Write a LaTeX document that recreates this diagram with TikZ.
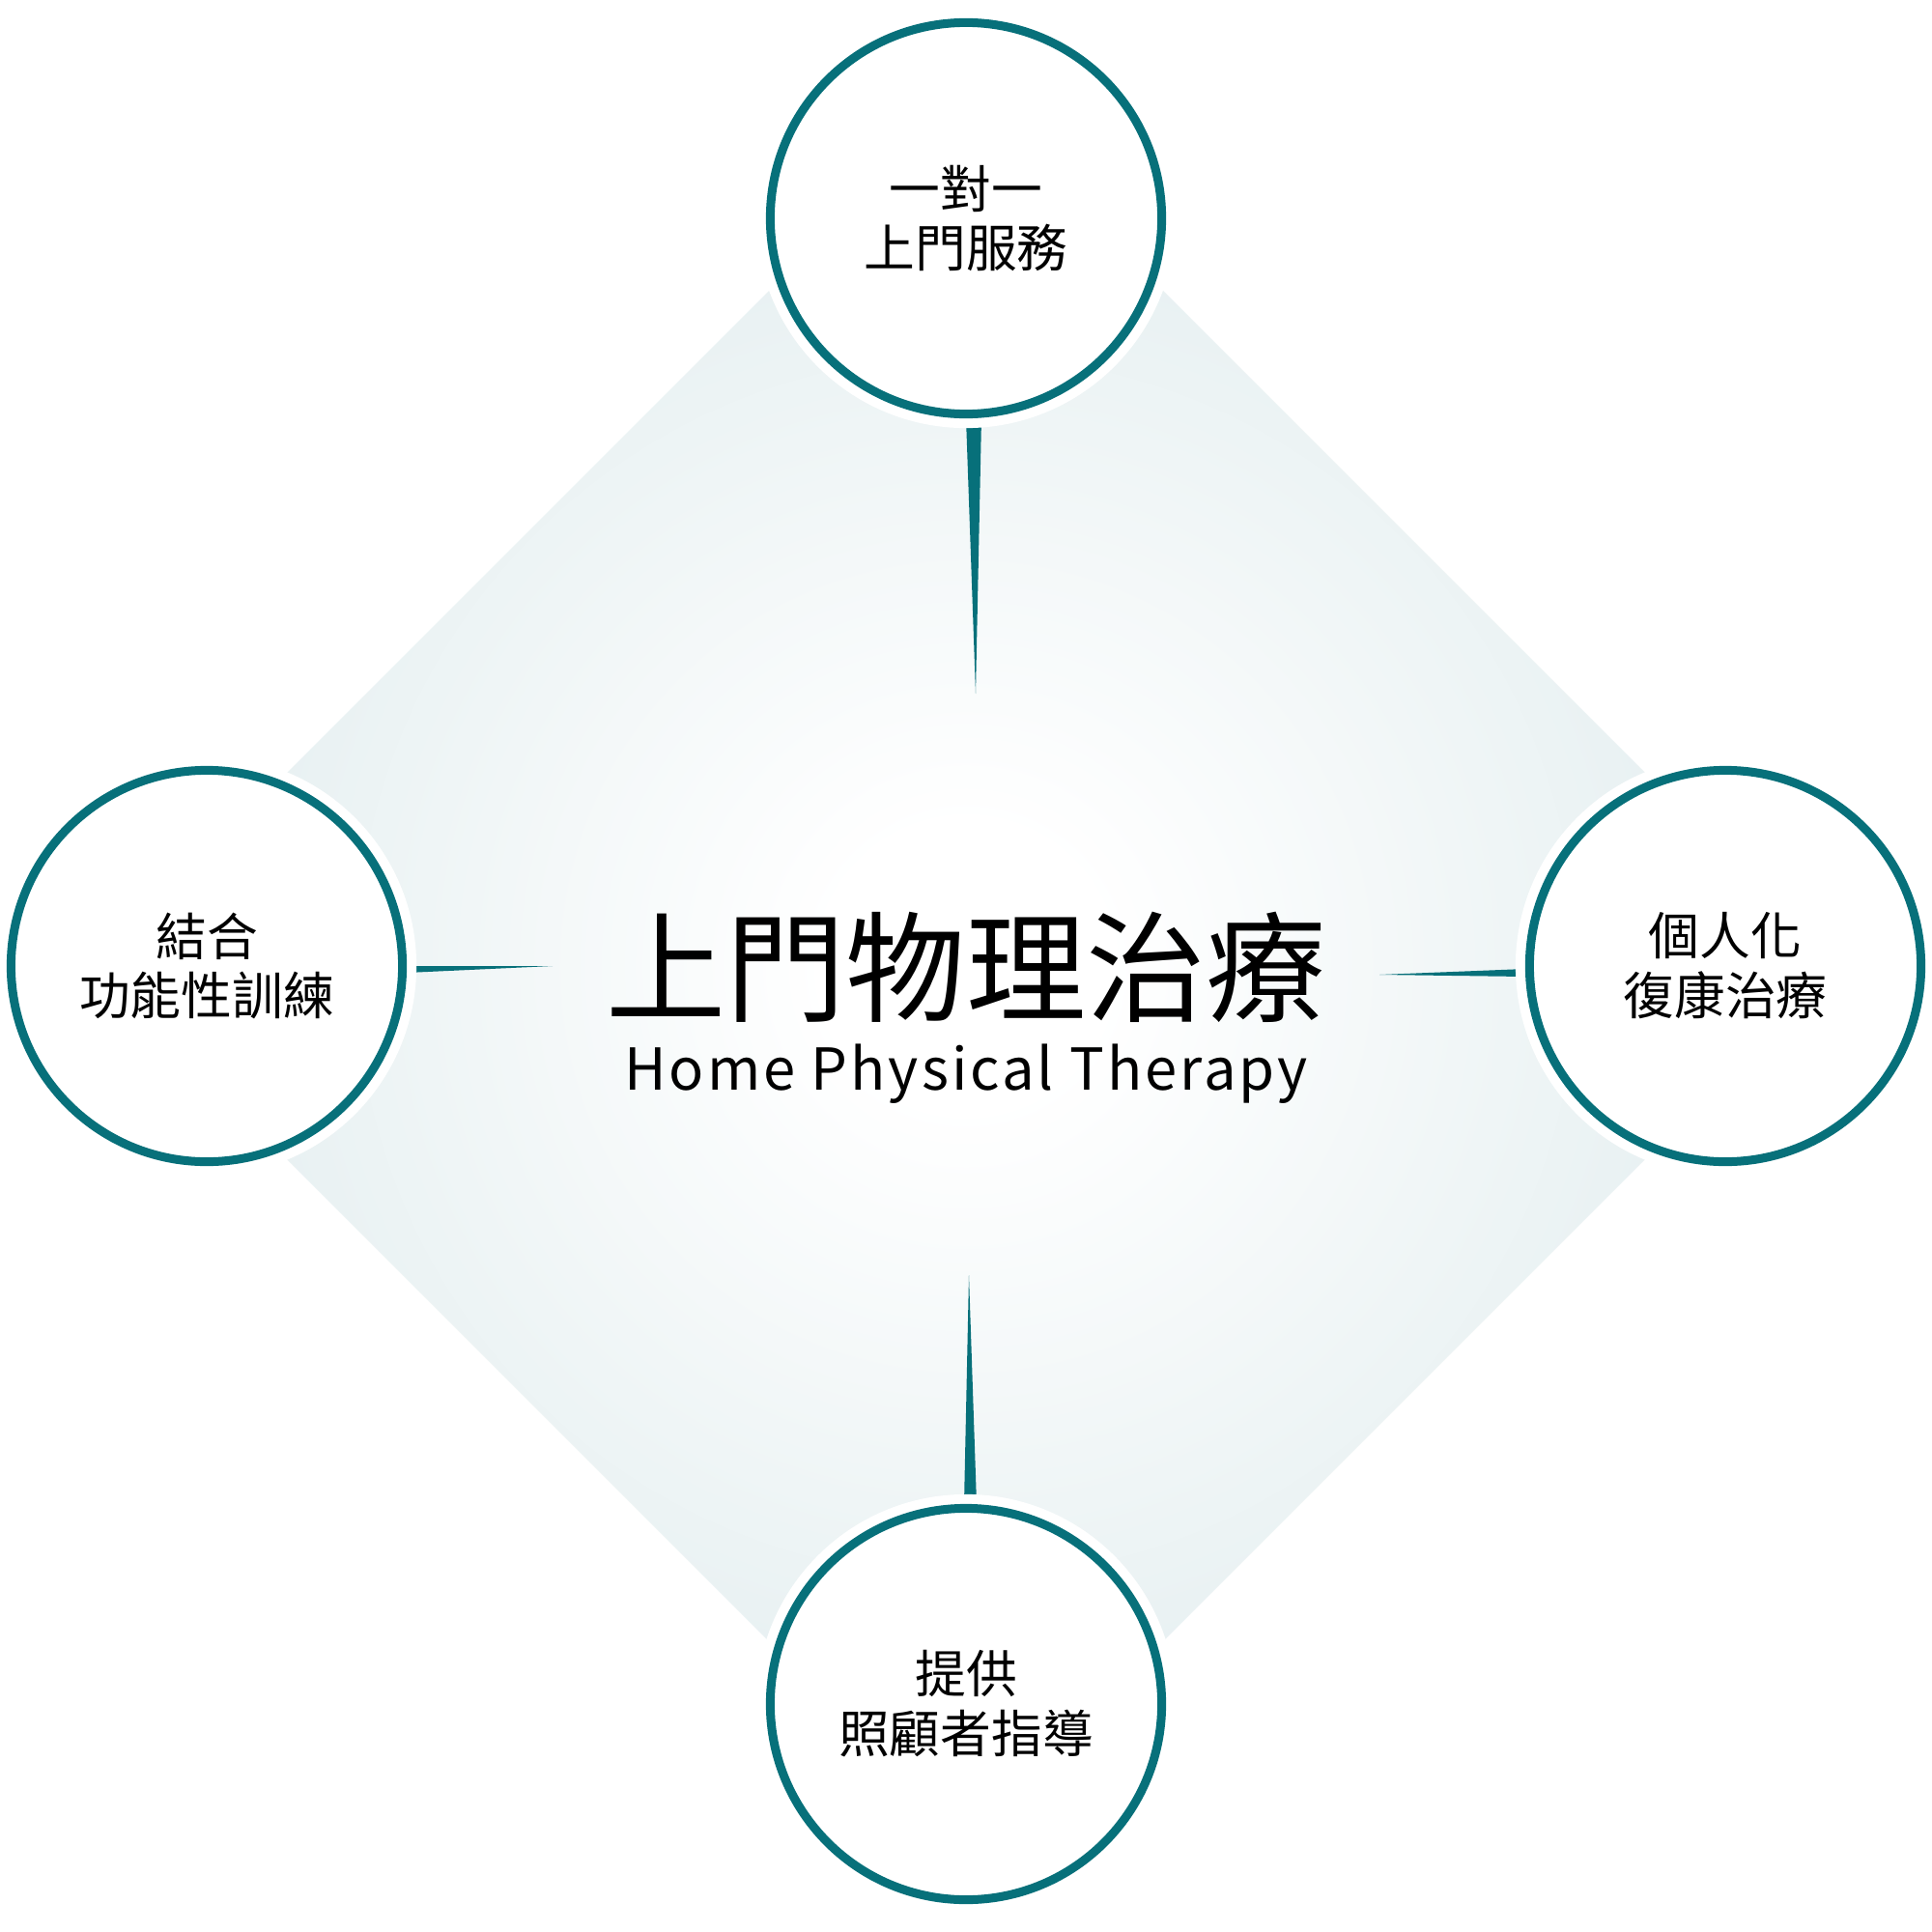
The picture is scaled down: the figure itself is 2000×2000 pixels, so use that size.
\documentclass[tikz,border=0pt]{standalone}
\usepackage{fontspec}
\newfontfamily\cjk{Noto Sans CJK TC}
\usetikzlibrary{calc}
\definecolor{teal1}{HTML}{07707A}
\definecolor{mist}{HTML}{DAE8EA}
\pgfdeclareradialshading{glow}{\pgfpoint{0bp}{0bp}}{color(0bp)=(white); color(4bp)=(white); color(31bp)=(mist); color(50bp)=(mist)}

\begin{document}
\begin{tikzpicture}[x=0.01cm, y=-0.01cm,
	ring/.style={circle, draw=teal1, line width=0.09cm, fill=white, minimum size=4.05cm, inner sep=0pt, align=center,
		font=\cjk\fontsize{15pt}{17.6pt}\selectfont, preaction={draw=white, fill=white, line width=0.29cm}},
	spoke/.style={fill=teal1}]

		\fill[white] (0,0) rectangle (2000,2000);
		\useasboundingbox (0,0) rectangle (2000,2000);
		\shade[shading=glow] (1000,97) -- (1903,1000) -- (1000,1903) -- (97,1000) -- cycle;

		\coordinate (c1) at (1000,226);
		\coordinate (c2) at (214,1000);
		\coordinate (c3) at (1786,1000);
		\coordinate (c4) at (1000,1764);
		\coordinate (t1) at (1010,718);
		\coordinate (t2) at (572,1000);
		\coordinate (t3) at (1428,1009);
		\coordinate (t4) at (1003,1320);

		\fill[spoke] ($(c1)+(0,207)$) -- ($(c1)+(16,207)$) -- (t1) -- cycle;
		\fill[spoke] ($(c2)+(207,0)$) -- ($(c2)+(207,7)$) -- (t2) -- cycle;
		\fill[spoke] ($(c3)+(-207,3)$) -- ($(c3)+(-207,11)$) -- (t3) -- cycle;
		\fill[spoke] ($(c4)+(-2,-207)$) -- ($(c4)+(11,-207)$) -- (t4) -- cycle;

		\node[ring] (1) at (c1) {一對一\\上門服務};
		\node[ring] (2) at (c2) {結合\\功能性訓練};
		\node[ring] (3) at (c3) {個人化\\復康治療};
		\node[ring] (4) at (c4) {提供\\照顧者指導};

		\node[font=\cjk\fontsize{35.3pt}{40pt}\selectfont] (0) at (1000,1001) {上門物理治療};
		\node[font=\cjk\fontsize{17pt}{20pt}\selectfont\addfontfeatures{LetterSpace=5}] (00) at (1000,1112) {Home Physical Therapy};

\end{tikzpicture}
\end{document}
